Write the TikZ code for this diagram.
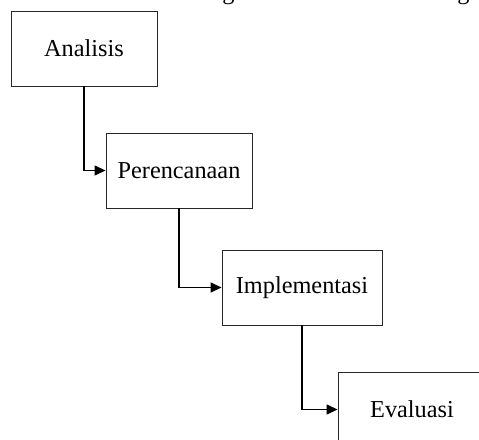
\documentclass[tikz,border=0pt]{standalone}
\usepackage{fontspec}
\setmainfont{Liberation Serif}
\usetikzlibrary{arrows.meta}
\begin{document}
\begin{tikzpicture}[x=1pt,y=-1pt,
  stage/.style={draw=black!85,line width=0.9pt,rectangle,minimum width=146pt,minimum height=75pt,inner sep=0pt,font=\fontsize{24.3pt}{28pt}\selectfont},
  flow/.style={draw=black,line width=1.3pt,-{Triangle[length=11pt,width=10pt]}}]
\useasboundingbox (0,0) rectangle (479,439);
\clip (0,0) rectangle (479,439);
\node[anchor=base,font=\fontsize{24.3pt}{28pt}\selectfont] (g1) at (228.5,0) {g};
\node[anchor=base,font=\fontsize{24.3pt}{28pt}\selectfont] (g2) at (463.5,0) {g};
\node[stage] (a) at (84,48.5) {Analisis};
\node[stage] (b) at (179,170.5) {Perencanaan};
\node[stage,minimum width=160pt] (c) at (302,287.5) {Implementasi};
\node[stage,minimum width=148pt] (d) at (412,409.5) {Evaluasi};
\draw[flow] (a.south) |- (b.west);
\draw[flow] (b.south) |- (c.west);
\draw[flow] (c.south) |- (d.west);
\end{tikzpicture}
\end{document}
